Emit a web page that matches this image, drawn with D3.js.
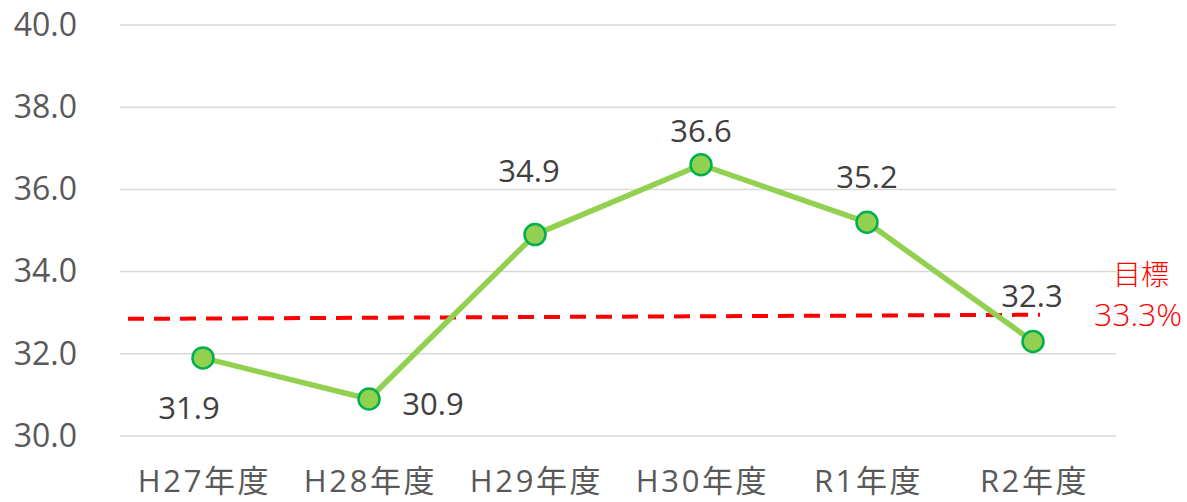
<!DOCTYPE html>
<html><head><meta charset="utf-8">
<script src="https://cdn.jsdelivr.net/npm/d3@7"></script>
<style>
body{margin:0;background:#fff;}
text{font-family:"Open Sans","Noto Sans CJK JP",sans-serif;}
</style></head>
<body><svg id="c" width="1187" height="502"></svg>
<script>
const categories = ["H27年度","H28年度","H29年度","H30年度","R1年度","R2年度"];
const values = [31.9, 30.9, 34.9, 36.6, 35.2, 32.3];
const yTicks = [30, 32, 34, 36, 38, 40];
const targetLine = [32.85, 32.95];
const targetLabel = ["目標", "33.3%"];
// label offsets relative to marker (layout only)
const labelDX = [-14, 64, -6, 0, 0, -1];
const labelDY = [49, 4, -65, -35, -46, -46];

const svg = d3.select("#c");
const x = d3.scaleBand().domain(categories).range([120, 1116]);
const y = d3.scaleLinear().domain([30, 40]).range([436, 25]);
const cx = d => x(d) + x.bandwidth()/2;

// gridlines
svg.append("g").selectAll("line").data(yTicks).join("line")
  .attr("x1", 120).attr("x2", 1116)
  .attr("y1", d => y(d)).attr("y2", d => y(d))
  .attr("stroke", "#D9D9D9").attr("stroke-width", 1.5);

// y axis labels
const yAxis = d3.axisLeft(y).tickValues(yTicks).tickFormat(d3.format(".1f")).tickSize(0).tickPadding(0);
const ga = svg.append("g").attr("transform", "translate(77,0)").call(yAxis);
ga.select(".domain").remove();
ga.selectAll("text").attr("font-size", 32).attr("fill", "#595959")
  .attr("font-family", "'Open Sans',sans-serif");

// x axis labels
const xAxis = d3.axisBottom(x).tickSize(0).tickPadding(0);
const gx = svg.append("g").attr("transform", "translate(0,480)").call(xAxis);
gx.select(".domain").remove();
gx.selectAll("text").attr("font-size", 31).attr("fill", "#595959")
  .attr("y", 0).attr("dy", null).attr("x", 1.5)
  .attr("dominant-baseline", "central")
  .attr("letter-spacing", "2.6px")
  .attr("font-family", "'Noto Sans CJK JP',sans-serif");

// target dashed line
svg.append("line")
  .attr("x1", 128).attr("x2", 1040)
  .attr("y1", y(targetLine[0])).attr("y2", y(targetLine[1]))
  .attr("stroke", "#FF0000").attr("stroke-width", 4)
  .attr("stroke-dasharray", "16,10");

// series line
const line = d3.line().x((d,i) => cx(categories[i])).y(d => y(d));
svg.append("path").datum(values).attr("d", line)
  .attr("fill", "none").attr("stroke", "#92D050").attr("stroke-width", 5.5)
  .attr("stroke-linejoin", "round");

// markers
svg.append("g").selectAll("circle").data(values).join("circle")
  .attr("cx", (d,i) => cx(categories[i])).attr("cy", d => y(d))
  .attr("r", 10.5).attr("fill", "#92D050").attr("stroke", "#00B050").attr("stroke-width", 2.5);

// data labels
svg.append("g").selectAll("text").data(values).join("text")
  .attr("x", (d,i) => cx(categories[i]) + labelDX[i])
  .attr("y", (d,i) => y(d) + labelDY[i])
  .attr("text-anchor", "middle")
  .attr("dominant-baseline", "central")
  .attr("font-size", 31).attr("fill", "#404040")
  .text(d => d3.format(".1f")(d));

// target label
svg.append("g").selectAll("text").data(targetLabel).join("text")
  .attr("x", (d,i) => i === 0 ? 1141 : 1138).attr("y", (d,i) => i === 0 ? 274 : 313)
  .attr("text-anchor", "middle").attr("dominant-baseline", "central")
  .attr("font-size", (d,i) => i === 0 ? 28 : 32)
  .attr("font-weight", 300)
  .attr("fill", "#FF0000")
  .attr("font-family", "'Noto Sans CJK JP',sans-serif")
  .text(d => d);
</script></body></html>
